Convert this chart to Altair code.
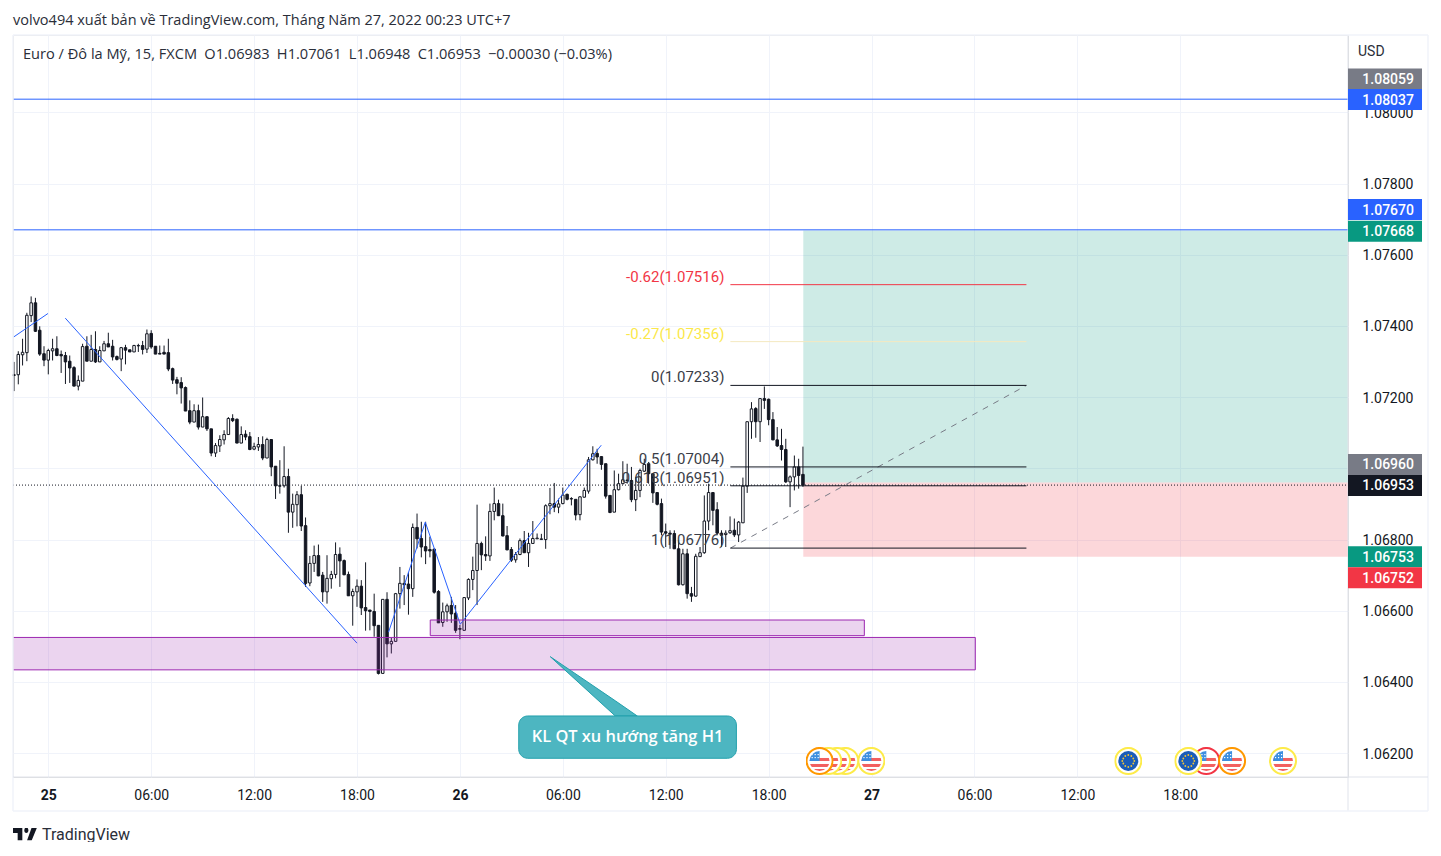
import urllib.parse
import altair as alt
import pandas as pd

# --- candles, prices in 1/100000 units, 15 minute bars ---
opens = [107263,107263,107319,107325,107429,107465,107388,107322,107304,107330,
107336,107320,107317,107301,107283,107231,107245,107343,107301,107334,
107299,107330,107350,107343,107314,107307,107339,107333,107327,107345,
107345,107335,107379,107343,107323,107326,107325,107280,107249,107241,
107227,107162,107130,107162,107116,107145,107111,107043,107063,107080,
107095,107140,107138,107071,107096,107089,107054,107060,107067,107029,
107081,107006,106951,106951,106977,106877,106898,106926,106839,106678,
106733,106755,106700,106653,106690,106702,106759,106741,106702,106642,
106653,106669,106609,106602,106598,106559,106424,106632,106507,106514,
106648,106677,106675,106662,106834,106803,106780,106772,106773,106654,
106567,106597,106615,106593,106550,106545,106636,106688,106713,106789,
106758,106754,106879,106901,106867,106811,106772,106743,106758,106797,
106763,106789,106802,106800,106800,106895,106901,106891,106901,106927,
106915,106913,106870,106919,106936,107024,107042,107033,107013,106924,
106877,106940,106957,106967,106966,106912,106938,106992,107013,106985,
106932,106901,106822,106818,106817,106774,106673,106760,106648,106641,
106752,106763,106852,106932,106884,106818,106814,106819,106826,106813,
106847,106950,107131,107168,107131,107196,107194,107137,107080,107064,
107053,106962,106976,107004,106983]
closes = [107261,107320,107326,107430,107465,107385,107321,107304,107331,107336,
107317,107316,107299,107282,107231,107247,107342,107301,107334,107299,
107331,107350,107341,107313,107306,107339,107332,107327,107345,107344,
107334,107378,107341,107321,107321,107321,107279,107248,107239,107226,
107161,107130,107162,107116,107145,107111,107043,107064,107081,107095,
107140,107134,107071,107095,107088,107053,107061,107067,107029,107081,
107004,106951,106950,106977,106877,106899,106926,106838,106677,106733,
106755,106698,106653,106691,106702,106758,106740,106701,106642,106654,
106669,106608,106600,106598,106558,106424,106632,106507,106514,106648,
106677,106673,106662,106834,106802,106779,106768,106768,106652,106566,
106597,106614,106591,106545,106548,106637,106688,106713,106789,106757,
106754,106879,106901,106867,106810,106771,106742,106758,106797,106763,
106789,106803,106804,106802,106895,106901,106891,106900,106925,106913,
106914,106869,106920,106938,107024,107041,107032,107011,106922,106876,
106940,106957,106968,106966,106912,106938,106994,107011,106985,106931,
106899,106821,106818,106815,106774,106673,106760,106648,106641,106753,
106763,106852,106932,106882,106818,106812,106818,106825,106813,106849,
106950,107131,107167,107131,107196,107191,107137,107080,107063,107053,
106962,106976,107004,106980,106953]
highs = [107299,107329,107364,107437,107483,107479,107399,107343,107336,107364,
107371,107331,107327,107317,107287,107261,107350,107371,107375,107385,
107343,107358,107381,107361,107317,107341,107347,107333,107347,107350,
107358,107390,107388,107343,107345,107345,107364,107283,107257,107256,
107230,107191,107180,107179,107199,107146,107111,107071,107093,107107,
107144,107152,107140,107118,107107,107102,107072,107088,107090,107086,
107081,107006,107023,107062,106999,106929,106936,106951,106862,106754,
106783,106786,106709,106756,106712,106792,106778,106744,106710,106662,
106688,106686,106736,106602,106648,106559,106633,106652,106524,106650,
106723,106700,106709,106845,106873,106850,106850,106808,106775,106658,
106623,106620,106639,106616,106560,106637,106691,106752,106898,106794,
106809,106901,106946,106912,106901,106838,106779,106765,106803,106824,
106819,106852,106817,106816,106899,106945,106959,106915,106946,106929,
106919,106913,106922,106946,107032,107062,107055,107034,107013,106924,
106994,106985,107020,107013,107004,106976,106999,107027,107018,106985,
106932,106915,106845,106826,106826,106798,106774,106774,106667,106760,
106779,106924,106957,106933,106905,106826,106826,106865,106859,106852,
106974,107131,107186,107172,107196,107230,107196,107158,107116,107111,
107083,106980,107036,107027,107061]
lows = [107217,107236,107289,107301,107411,107383,107316,107287,107264,107303,
107315,107268,107237,107240,107231,107219,107245,107301,107301,107296,
107299,107330,107341,107303,107303,107273,107292,107327,107327,107327,
107320,107324,107336,107321,107321,107321,107273,107237,107208,107182,
107161,107124,107130,107109,107116,107105,107034,107032,107046,107067,
107095,107130,107071,107071,107079,107051,107051,107049,107023,107029,
106978,106914,106929,106946,106819,106833,106837,106824,106667,106669,
106709,106697,106625,106620,106662,106691,106667,106700,106642,106558,
106611,106588,106544,106545,106527,106421,106424,106469,106480,106514,
106606,106616,106589,106639,106775,106750,106731,106750,106648,106566,
106555,106569,106566,106538,106520,106545,106630,106658,106616,106714,
106740,106740,106854,106866,106809,106770,106737,106735,106756,106763,
106723,106789,106802,106800,106774,106871,106877,106874,106899,106910,
106896,106854,106854,106918,106929,107022,107013,106996,106915,106874,
106877,106938,106955,106957,106905,106880,106919,106990,106957,106903,
106896,106812,106779,106774,106774,106671,106671,106634,106625,106640,
106752,106760,106826,106840,106812,106779,106779,106816,106807,106793,
106847,106931,107083,107086,107074,107167,107121,107079,107060,107022,
106959,106891,106938,106943,106948]

# --- axes ---
x_ticks = [0,6,12,18,24,30,36,42,48,54,60,66]
x_labels = ["25","06:00","12:00","18:00","26","06:00","12:00","18:00","27","06:00","12:00","18:00"]
y_ticks = [1.062,1.064,1.066,1.068,1.070,1.072,1.074,1.076,1.078,1.080]
x_domain = [-2.058, 75.78]
y_domain = [1.06133, 1.082173]

# --- drawings ---
hlines = [1.08037, 1.07670]
last_price = 1.06953
fib_prices = [1.07516, 1.07356, 1.07233, 1.07004, 1.06951, 1.06776]
fib_texts = ["-0.62(1.07516)", "-0.27(1.07356)", "0(1.07233)", "0.5(1.07004)", "0.618(1.06951)", "1(1.06776)"]
fib_line_colors = ["#f23645", "#f4e9c0", "#131722", "#131722", "#131722", "#131722"]
fib_text_colors = ["#f23645", "#fbe84a", "#3a3d47", "#3a3d47", "#3a3d47", "#3a3d47"]
fib_start, fib_end, fib_label_x = 39.77, 57.03, 39.42
trend_id = ["a","a","b","b","c","c","c","c"]
trend_t = [-2.02,-0.02,0.99,18.0,19.84,21.98,24.02,32.24]
trend_p = [1.07369,1.07435,1.07422,1.06509,1.06540,1.06849,1.06562,1.07065]
diag_t = [39.77, 57.03]
diag_p = [1.06776, 1.07233]
pos_t0, pos_t1 = 44.02, x_domain[1]
pos_target, pos_entry, pos_stop = 1.07668, 1.06960, 1.06752
zone_t0 = [-3.0, 22.27]
zone_t1 = [54.05, 47.58]
zone_top = [1.06525, 1.06574]
zone_bottom = [1.06434, 1.06530]
callout_box = dict(t0=27.43, t1=40.12, p0=1.063044, p1=1.061856)
callout_tail_t = [29.27, 33.06, 34.34]
callout_tail_top = [1.06471, 1.063471, 1.063044]
callout_tail_bottom = [1.06471, 1.063044, 1.063044]
callout_text = "KL QT xu hướng tăng H1"
flag_t = [46.47, 45.99, 45.48, 44.97, 47.99, 62.97, 67.52, 66.47, 69.02, 71.99]
flag_kind = ["us","us","us","us","us","eu","us","eu","us","us"]
flag_ring = ["#fdeb4a","#fdeb4a","#fdeb4a","#ff9800","#fdeb4a","#fdeb4a","#f23645","#fdeb4a","#ff9800","#fdeb4a"]
flag_price = 1.06178
tag_labels = ["1.08059","1.08037","1.07670","1.07668","1.06960","1.06953","1.06753","1.06752"]
tag_pos = [1.08094,1.08036,1.07727,1.07666,1.07011,1.06952,1.06752,1.06693]
tag_colors = ["#787b86","#2962ff","#2962ff","#089981","#787b86","#131722","#089981","#f23645"]

INK = "#131722"
xs = alt.Scale(domain=x_domain, nice=False, zero=False, padding=0)
ys = alt.Scale(domain=y_domain, nice=False, zero=False, padding=0)
label_js = "[" + ",".join(f"'{s}'" for s in x_labels) + "][datum.value/6]"
x_axis = alt.Axis(
    values=x_ticks, labelExpr=label_js, grid=True, gridColor="#f0f3fa", gridWidth=1,
    ticks=False, domain=False, labelFont="Roboto", labelFontSize=14, labelColor=INK,
    labelPadding=11.5, labelFlush=False, labelOverlap=False, title=None,
    labelFontWeight={"condition": {"test": "datum.value % 24 === 0", "value": "bold"}, "value": "normal"})
y_axis = alt.Axis(
    orient="right", values=y_ticks, grid=True, gridColor="#f0f3fa", gridWidth=1,
    labelExpr="abs(datum.value - 1.07) < 0.00001 ? '' : format(datum.value, '.5f')",
    ticks=False, domain=False, labelFont="Roboto", labelFontSize=14, labelColor=INK,
    labelPadding=14, labelOverlap=False, labelOffset=1, title=None)
X = lambda f: alt.X(f, type="quantitative", scale=xs, axis=x_axis)
Y = lambda f: alt.Y(f, type="quantitative", scale=ys, axis=y_axis)
X2 = lambda f: alt.X2(f)
Y2 = lambda f: alt.Y2(f)

candles = pd.DataFrame({"t": [(i - 8) * 0.25 for i in range(len(opens))],
                        "o": [v / 100000 for v in opens], "c": [v / 100000 for v in closes],
                        "h": [v / 100000 for v in highs], "l": [v / 100000 for v in lows]})
candles["fill"] = ["#ffffff" if c >= o else INK for o, c in zip(opens, closes)]

pos_df = pd.DataFrame({"t0": [pos_t0, pos_t0], "t1": [pos_t1, pos_t1],
                       "a": [pos_target, pos_entry], "b": [pos_entry, pos_stop],
                       "col": ["#089981", "#f23645"]})
position = alt.Chart(pos_df).mark_rect(opacity=0.2).encode(
    x=X("t0"), x2=X2("t1"), y=Y("a"), y2=Y2("b"), color=alt.Color("col:N", scale=None))

wicks = alt.Chart(candles).mark_rule(color=INK, strokeWidth=1).encode(x=X("t"), y=Y("l"), y2=Y2("h"))
bodies = alt.Chart(candles).mark_bar(size=2.5, stroke=INK, strokeWidth=1).encode(
    x=X("t"), y=Y("o"), y2=Y2("c"), fill=alt.Fill("fill:N", scale=None))

hline_df = pd.DataFrame({"p": hlines, "t0": [x_domain[0]] * 2, "t1": [x_domain[1]] * 2})
hl = alt.Chart(hline_df).mark_rule(color="#2962ff", strokeWidth=1).encode(x=X("t0"), x2=X2("t1"), y=Y("p"))
last_df = pd.DataFrame({"p": [last_price], "t0": [x_domain[0]], "t1": [x_domain[1]]})
last = alt.Chart(last_df).mark_rule(color=INK, strokeWidth=1, strokeDash=[1, 2]).encode(x=X("t0"), x2=X2("t1"), y=Y("p"))

trend_df = pd.DataFrame({"id": trend_id, "t": trend_t, "p": trend_p, "n": range(len(trend_t))})
trend = alt.Chart(trend_df).mark_line(color="#2962ff", strokeWidth=1, clip=True).encode(
    x=X("t"), y=Y("p"), detail="id:N", order="n:Q")

diag = alt.Chart(pd.DataFrame({"t": diag_t, "p": diag_p})).mark_line(
    color="#787b86", strokeWidth=1, strokeDash=[6, 6]).encode(x=X("t"), y=Y("p"))

fib_df = pd.DataFrame({"p": fib_prices, "txt": fib_texts, "lc": fib_line_colors, "tc": fib_text_colors,
                       "t0": [fib_start] * 6, "t1": [fib_end] * 6, "tl": [fib_label_x] * 6})
fib_lines = alt.Chart(fib_df).mark_rule(strokeWidth=1).encode(
    x=X("t0"), x2=X2("t1"), y=Y("p"), color=alt.Color("lc:N", scale=None))
fib_text = alt.Chart(fib_df).mark_text(align="right", baseline="bottom", font="Roboto", fontSize=15, dy=0).encode(
    x=X("tl"), y=Y("p"), text="txt:N", color=alt.Color("tc:N", scale=None))

zone_df = pd.DataFrame({"t0": zone_t0, "t1": zone_t1, "a": zone_top, "b": zone_bottom})
zones = alt.Chart(zone_df).mark_rect(fill="#9c27b0", fillOpacity=0.2, stroke="#9c27b0", strokeWidth=1, clip=True).encode(
    x=X("t0"), x2=X2("t1"), y=Y("a"), y2=Y2("b"))

tail = alt.Chart(pd.DataFrame({"t": callout_tail_t, "a": callout_tail_top, "b": callout_tail_bottom})).mark_area(
    fill="#4db6c1", stroke="#22a0ac", strokeWidth=1).encode(x=X("t"), y=Y("a"), y2=Y2("b"))
box = alt.Chart(pd.DataFrame([callout_box])).mark_rect(
    fill="#4db6c1", stroke="#22a0ac", strokeWidth=1, cornerRadius=9).encode(
    x=X("t0"), x2=X2("t1"), y=Y("p0"), y2=Y2("p1"))
box_text = alt.Chart(pd.DataFrame({"t": [(callout_box["t0"] + callout_box["t1"]) / 2],
                                   "p": [(callout_box["p0"] + callout_box["p1"]) / 2],
                                   "s": [callout_text]})).mark_text(
    font="Open Sans", fontSize=16.4, fontWeight=600, color="#ffffff").encode(x=X("t"), y=Y("p"), text="s:N")


def flag_uri(kind, ring):
    if kind == "us":
        inner = ('<rect x="3" y="3" width="22" height="22" fill="#fff"/>'
                 '<rect x="3" y="11" width="22" height="3" fill="#f25f5f"/>'
                 '<rect x="3" y="17" width="22" height="3" fill="#f25f5f"/>'
                 '<rect x="3" y="22" width="22" height="4" fill="#f25f5f"/>'
                 '<rect x="3" y="3" width="11" height="11" fill="#3d8fe0"/>'
                 '<rect x="6" y="7" width="1.2" height="1.2" fill="#fff"/>'
                 '<rect x="9" y="7" width="1.2" height="1.2" fill="#fff"/>'
                 '<rect x="12" y="7" width="1.2" height="1.2" fill="#fff"/>'
                 '<rect x="6" y="10" width="1.2" height="1.2" fill="#fff"/>'
                 '<rect x="9" y="10" width="1.2" height="1.2" fill="#fff"/>'
                 '<rect x="12" y="10" width="1.2" height="1.2" fill="#fff"/>')
    else:
        inner = ('<rect x="3" y="3" width="22" height="22" fill="#1a5cb8"/>'
                 + "".join(f'<circle cx="{cx}" cy="{cy}" r="0.9" fill="#f3c537"/>'
                           for cx, cy in [(14, 8), (17, 9), (19, 11.5), (20, 14), (19, 16.5), (17, 19),
                                          (14, 20), (11, 19), (9, 16.5), (8, 14), (9, 11.5), (11, 9)]))
    svg = ('<svg xmlns="http://www.w3.org/2000/svg" width="28" height="28" viewBox="0 0 28 28">'
           '<defs><clipPath id="c"><circle cx="14" cy="14" r="10"/></clipPath></defs>'
           f'<circle cx="14" cy="14" r="13" fill="#fff" stroke="{ring}" stroke-width="2"/>'
           f'<g clip-path="url(#c)">{inner}</g></svg>')
    return "data:image/svg+xml," + urllib.parse.quote(svg)


flag_df = pd.DataFrame({"t": flag_t, "p": [flag_price] * len(flag_t),
                        "u": [flag_uri(k, r) for k, r in zip(flag_kind, flag_ring)]})
flags = alt.Chart(flag_df).mark_image(width=28, height=28).encode(x=X("t"), y=Y("p"), url="u:N")

# frame
frame_layers = []
for vx, c, w in [(1335, "#e0e3eb", 1), (1415, "#f0f3fa", 1.5), (0, "#f0f3fa", 1.5)]:
    frame_layers.append(alt.Chart(pd.DataFrame({"k": [0]})).mark_rule(color=c, strokeWidth=w).encode(
        x=alt.value(vx), y=alt.value(0), y2=alt.value(776)))
for vy, c, w in [(0, "#f0f3fa", 1.5), (742, "#e0e3eb", 1), (776, "#f0f3fa", 1.5)]:
    frame_layers.append(alt.Chart(pd.DataFrame({"k": [0]})).mark_rule(color=c, strokeWidth=w).encode(
        y=alt.value(vy), x=alt.value(0), x2=alt.value(1415)))

# price tags
tag_df = pd.DataFrame({"txt": tag_labels, "p": tag_pos, "col": tag_colors})
tags = alt.Chart(tag_df).mark_tick(orient="horizontal", size=74, thickness=21, opacity=1).encode(
    x=alt.value(1372), y=Y("p"), color=alt.Color("col:N", scale=None))
tag_text = alt.Chart(tag_df).mark_text(font="Roboto", fontSize=14, color="#ffffff", align="right", fontWeight=500, dy=1).encode(
    x=alt.value(1401), y=Y("p"), text="txt:N")


def label(s, x, y, size=14, color=INK, font="Roboto", weight="normal"):
    return alt.Chart(pd.DataFrame({"s": [s]})).mark_text(
        align="left", baseline="middle", font=font, fontSize=size, color=color, fontWeight=weight
    ).encode(x=alt.value(x), y=alt.value(y), text="s:N")


header = label("volvo494 xuất bản về TradingView.com, Tháng Năm 27, 2022 00:23 UTC+7", 0, -14.5, size=14.5, font="Open Sans", color="#2a2e39")
legend = label("Euro / Đô la Mỹ, 15, FXCM\u2002O1.06983\u2002H1.07061\u2002L1.06948\u2002C1.06953\u2002−0.00030 (−0.03%)", 10, 20, size=14.6, font="Open Sans", color="#2a2e39")
usd = label("USD", 1345, 17, color="#2a2e39")
brand = label("TradingView", 29, 799.5, size=16, color="#2a2e39")
logo_svg = ('<svg xmlns="http://www.w3.org/2000/svg" width="36" height="14" viewBox="0 6 36 14" preserveAspectRatio="none">'
            '<path d="M14 6H0v6h7v8h7V6Z" fill="#131722"/><circle cx="20" cy="9" r="3" fill="#131722"/>'
            '<path d="M28 20h-7l7-14h8l-8 14Z" fill="#131722"/></svg>')
logo = alt.Chart(pd.DataFrame({"u": ["data:image/svg+xml," + urllib.parse.quote(logo_svg)]})).mark_image(
    width=24, height=13, aspect=False).encode(x=alt.value(12), y=alt.value(799), url="u:N")

chart = alt.layer(
    position, wicks, bodies, hl, last, trend, diag, fib_lines, fib_text, zones, tail, box, box_text,
    flags, *frame_layers, tags, tag_text, header, legend, usd, brand, logo,
).properties(
    width=1335, height=742,
    autosize=alt.AutoSizeParams(type="none"),
    padding={"left": 5, "top": 27, "right": 85, "bottom": 65},
).configure_view(stroke=None).configure(font="Roboto", background="#ffffff")

chart.save("out.html", embed_options={"renderer": "svg", "actions": False})
